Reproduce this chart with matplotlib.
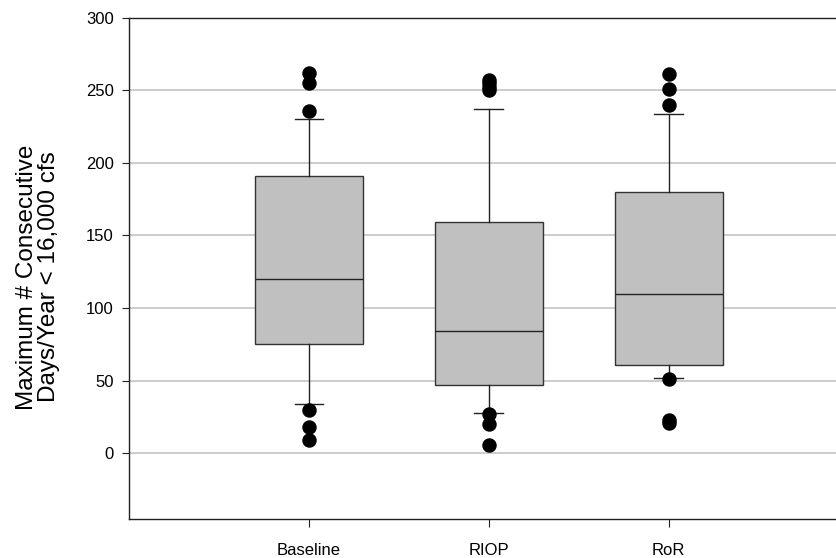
import matplotlib
matplotlib.use("Agg")
import matplotlib.pyplot as plt

plt.rcParams['font.family'] = ['Liberation Sans', 'DejaVu Sans']

# data
scenarios = ["Baseline", "RIOP", "RoR"]
q1 = [75, 47, 61]
medians = [120, 84, 110]
q3 = [191, 159, 180]
whisker_low = [34, 28, 52]
whisker_high = [230, 237, 234]
outliers = [
    [262, 255, 236, 30, 18, 9],
    [257, 255, 252, 250, 27, 20, 6],
    [261, 251, 240, 51, 23, 21],
]

stats = []
for i, name in enumerate(scenarios):
    stats.append({
        "label": name,
        "q1": q1[i],
        "med": medians[i],
        "q3": q3[i],
        "whislo": whisker_low[i],
        "whishi": whisker_high[i],
        "fliers": outliers[i],
    })

fig = plt.figure(figsize=(8.36, 5.58), dpi=100)
ax = fig.add_axes([0.1543, 0.0694, 0.8457, 0.8989])

ax.set_axisbelow(True)
ax.yaxis.grid(True, color="#c8c8c8", linewidth=1.3)

positions = [1, 2, 3]
ax.bxp(stats, positions=positions, widths=0.6, capwidths=0.16,
       patch_artist=True,
       boxprops=dict(facecolor="#c0c0c0", edgecolor="#333333", linewidth=1.0),
       medianprops=dict(color="#222222", linewidth=1.0),
       whiskerprops=dict(color="#222222", linewidth=1.0),
       capprops=dict(color="#222222", linewidth=1.0),
       flierprops=dict(marker="o", markerfacecolor="black", markeredgecolor="black",
                       markersize=9.4, linestyle="none"))

ax.set_xlim(0, 3.93)
ax.set_ylim(-45.5, 300)
ax.set_yticks([0, 50, 100, 150, 200, 250, 300])
ax.set_xticks(positions)
ax.set_xticklabels(scenarios)

ax.spines["right"].set_visible(False)
for s in ["left", "bottom", "top"]:
    ax.spines[s].set_color("#222222")
    ax.spines[s].set_linewidth(1.0)

ax.tick_params(axis="y", direction="out", length=5, pad=6, labelsize=12, color="#222222")
ax.tick_params(axis="x", direction="out", length=6, pad=11, labelsize=12, color="#222222")

ax.set_ylabel("Maximum # Consecutive\nDays/Year < 16,000 cfs", fontsize=17.5,
              linespacing=1.05)
ax.yaxis.set_label_coords(-0.097, 0.483)

fig.savefig("out.png", dpi=100)
